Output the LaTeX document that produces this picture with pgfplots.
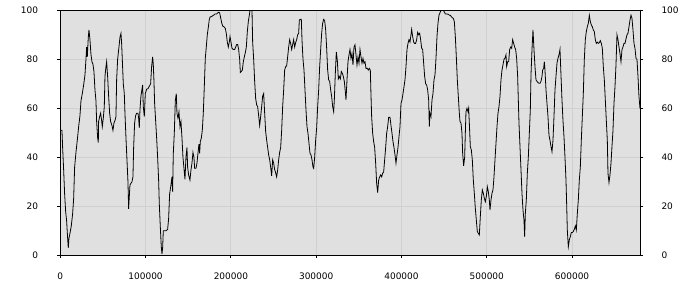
\documentclass[border=0pt]{standalone}
\usepackage{pgfplots}
\pgfplotsset{compat=1.18}
\usepackage{fontspec}
\setmainfont{DejaVu Sans}
\definecolor{plotbg}{HTML}{E0E0E0}
\definecolor{gridc}{HTML}{D0D0D0}
\begin{document}
\begin{tikzpicture}
\path[use as bounding box, fill=white] (-60.3bp,-44.7bp) rectangle (639.7bp,255.3bp);
\begin{axis}[
  at={(0,0)}, anchor=south west,
  scale only axis, width=580bp, height=245bp,
  xmin=0, xmax=680000, ymin=0, ymax=100,
  axis background/.style={fill=plotbg},
  grid=major, major grid style={gridc, line width=0.8bp},
  xtick={0,100000,200000,300000,400000,500000,600000},
  ytick={0,20,40,60,80,100},
  scaled x ticks=false,
  /pgf/number format/fixed, /pgf/number format/1000 sep={},
  /pgf/number format/assume math mode=true,
  tick align=outside, major tick length=3bp,
  xtick pos=left, ytick pos=left,
  axis line style={black, line width=0.8bp},
  tick style={black, line width=0.8bp},
  ticklabel style={font=\fontsize{9}{10}\selectfont, inner sep=0pt},
  yticklabel style={anchor=east},
  xticklabel style={anchor=north},
  yticklabel shift=19bp,
  xticklabel shift=14bp,
]
\addplot[black, line width=0.8bp] table {
x y
0 51
1954 51
2736 44
3908 35
5080 25
6253 18
7425 14
8598 7
9379 3
10161 7
11333 9
12896 12
14460 17
15632 23
16804 36
18368 42
19931 47
21494 52.5
23057 57
24230 63
25793 66
27356 69.5
28919 73.6
30092 80
30873 85
31655 81
32827 89
33609 92
34781 88
35954 82
37126 79
38298 78
39471 75
40643 67.5
41816 63
42597 54.6
43770 48
44551 46
44942 54.6
46114 56.6
47287 58
48459 55
49241 52.5
50413 56
51586 60.7
52367 73
53540 77
54321 79
55494 73
56666 65
57838 58
59011 54.6
60574 53
61746 51
62919 54
64091 55
65264 56.6
66045 71.6
67218 80
68781 85
69953 89
71126 90.6
71907 86.5
72689 80
73861 70
75034 66
75815 58
76988 48
78160 39
79332 30
80114 19
80896 24
81677 28.7
82850 29.4
84022 30
85194 32
85976 44
87148 54
88321 57
89493 58
91056 58
91838 56
92620 52
93401 59.3
94574 65
95746 67.8
96528 69.5
97309 60.7
98482 56.6
99654 66
101217 67.8
102780 68
104344 69
105907 70
107079 77
108252 81
109033 78
109815 71
110596 62
111769 55
112941 48
114114 40
115286 30.7
116068 21
117240 11.7
118412 3.5
119194 0.5
119976 3
120757 10
122320 10
123884 10
125838 10.6
127010 15
128182 25
129746 28.7
130918 32
131700 26
132481 41.6
133654 49.8
134826 63
135998 66
136780 58
137952 56
139125 58.6
140297 52.5
141470 54.6
142642 48
143814 40
144987 35.5
146159 31
147332 40
148504 44
149286 36
150458 32.8
152021 30.7
153194 34.8
154366 37.6
155538 42
156711 40
157492 35.5
159056 35.5
160228 37.6
161400 41.6
162573 45.4
163354 41.6
164136 46.4
165308 47.8
166481 51
167653 58
168826 68.8
169998 80.4
171170 85
172343 90
173515 93
174688 96.3
175860 97.4
177423 97.4
178596 97.8
179768 98
181331 98.5
183285 98.5
185239 99.2
186802 99
187975 97
189147 95
190320 93.6
191883 93.3
193446 92.6
194618 90.6
195791 87
196963 85
198136 87
198957 89.3
200129 87
201302 84.5
202865 84
204428 84
205601 85
206773 86
207945 86
209118 84
210290 80
211072 74.6
212244 75
213417 75.6
214589 79
215761 81
216934 82.7
218106 85
219279 91.3
220451 95.4
221623 98
222405 100
223577 100
224750 100
225531 87
226704 80
227876 71
229049 64
230221 61.4
231393 60.7
232566 57
233738 53
234911 56.6
236083 60.7
237255 65
238428 66
239600 58
240773 50.5
241945 47
243117 44
244290 41
245462 39
246635 36
247807 32.4
248979 39
250152 37.6
251324 35
252497 33.7
253669 32
254841 34.8
256014 39
257186 42
258359 44
259531 51
260703 60.7
261876 67.5
263048 75.6
264221 77
265393 77.3
266565 81
267738 85
268910 88
270083 86.5
271255 84
272427 86
273600 88
274772 85
275945 86.8
277117 88
278289 90
279462 90.6
280243 96
281416 96.3
282588 96.3
283370 88
284542 80
285715 75.6
286887 67.5
288059 59.3
289232 52.5
290404 49.8
291577 45.7
292749 41.6
293921 41
295094 39
296266 36
297048 35.5
298220 40
299392 47
300565 52
301737 60.7
302910 67.5
304082 77
305254 84
306427 90.6
307599 94.7
308772 96.3
309944 95.8
311116 92
312289 84.5
313461 75.6
314634 71.6
315806 71
316978 67.5
318151 64.8
319323 60.7
320496 58.6
321277 63.4
322450 74.3
323622 83
324795 79.5
325967 72
327139 73
328312 72
329484 75
330657 74.3
331829 73
333001 71
334174 66.8
334955 63.4
336128 71.6
337300 79
338473 81.8
339645 84
340817 80.4
341990 82.4
343162 77.7
344335 85
345507 85.9
346679 81.8
347852 77.7
349024 81
350197 78.4
351369 84
352541 81
353714 78.4
354886 80.4
356059 78.4
357231 79
358403 76.3
359967 76.3
361139 75.6
362311 76.3
363484 75.6
364265 65.4
365047 56.6
366219 49.8
367392 46.4
368564 44
369737 37.6
370909 29.4
372081 25.6
373254 30.7
374426 32
375599 32.8
376771 32
377943 33.5
379116 34
380288 39
381461 44
382633 49.8
383805 52.5
384978 56.3
386541 56.3
387713 53
388886 49.8
390058 46.4
391231 44
392403 41
393575 37.6
394748 41
395920 44
397093 48.4
398265 52.5
399437 62
400610 63.4
401782 66
402955 68.8
404127 71.6
405299 77
406472 84
407644 86.5
408817 88
409989 87
411161 90
411943 92.2
413115 89.3
414288 87
415460 86.5
416633 86.5
417805 88
418977 91
420150 90
421322 90.6
422495 88
423667 84.5
424839 84
426012 78.4
427184 73
428357 70
429529 69.5
430701 67.5
431874 63.4
432655 52.5
433437 58
434609 56.6
435782 63.4
436954 66
438127 71.6
439299 73.6
440471 80.4
441644 89.3
442816 94.7
443989 98
445161 99
446333 100
447506 100
449069 100
450241 99.3
451414 98.5
452977 98.5
454931 98.4
456103 98
457276 98
458448 97.4
459621 97
460793 96.7
461965 95.4
463138 89.3
464310 81
465483 71.6
466655 64.8
467827 58
468606 54.6
469778 54
470951 49.8
471732 41.6
472905 36.5
474077 40
474859 49.8
475640 58.6
476813 60
477985 58.6
478767 60
479548 54
480721 44.4
481893 43
483066 39
484238 30.7
485410 25.3
486583 19.2
487755 14.4
488928 9.7
490100 9
491272 8.3
492445 15.8
493617 22.6
494790 26.7
495962 25.3
497134 23.3
498307 21.9
499479 24
500652 28
501824 26
502996 22.6
503778 18.5
504950 22.6
506123 25.3
507295 26.7
508468 32
509640 39
510812 45.7
511985 52.5
513157 58
514330 60.7
515502 64.8
516674 71.6
517847 75.6
519019 77.7
520192 80
521364 80.4
522536 81.8
523318 77
524490 79
525663 79
526835 84
528008 85
529180 84.5
530352 88
531525 86.5
532697 85
533870 84
535042 80.4
536214 73
536996 63.4
537778 54
538950 44.4
540122 35
541295 25.3
542467 18.5
543640 14.4
544421 7.6
545203 17
546375 22.6
547548 33.5
548720 40
549892 49.8
551065 59.3
551846 73.6
553019 84
554191 92
555364 84
556536 77
557708 71.6
558881 71
560053 70.5
561226 70.2
562398 70.2
563570 71
564743 73
565524 75.6
566697 76.3
567478 79
568260 75.6
569432 67.5
570605 62
571777 56.6
572950 49
574122 47
575294 44.4
576467 42.3
577639 47
578812 56.6
579984 67.5
581156 73
582329 78.4
583501 80.4
584674 81.8
585846 84
587018 73.6
588191 63.4
589363 55
590536 48.4
591708 40
592880 30.7
593662 21
594444 10.3
595616 3.5
596788 6.3
597961 7.6
599133 9.3
600306 9.3
601478 9.7
602650 10.6
603823 12
604995 10.3
606168 17
607340 22.6
608512 30.7
609685 36
610857 47
612030 56.6
613202 66
614374 80
615547 88
616719 91.3
617892 93.3
619064 94.7
620236 98
621409 95.4
622581 94
623754 93.3
624926 92
626098 91.3
627271 88
628443 86.5
629616 87
630788 86.5
631960 86.8
633133 87.6
634305 86.5
635478 84.5
636650 77
637822 71.6
638995 63.4
640167 55
641340 47
642121 33.5
643294 29.7
644466 32.8
645638 37.6
646811 44.4
647983 51
649156 62
650328 68.8
651500 77.7
652673 90
653845 88
655018 85
656190 82.4
657362 79
658535 84
659707 85
660880 86.5
662052 86.5
663224 88.3
664397 90
665569 90.6
666742 93.3
667914 96
669086 98
670259 96.7
671431 92
672604 86.5
673776 84.5
674948 80.4
676121 80
677293 73
678466 64.8
679638 60
680000 60
};
\end{axis}
\begin{axis}[
  at={(0,0)}, anchor=south west,
  scale only axis, width=580bp, height=245bp,
  xmin=0, xmax=680000, ymin=0, ymax=100,
  hide x axis,
  axis y line*=right,
  ytick={0,20,40,60,80,100},
  /pgf/number format/assume math mode=true,
  tick align=outside, major tick length=3bp,
  axis line style={black, line width=0.8bp, -},
  tick style={black, line width=0.8bp},
  ticklabel style={font=\fontsize{9}{10}\selectfont, inner sep=0pt},
  yticklabel style={anchor=west},
  yticklabel shift=18bp,
]
\end{axis}
\end{tikzpicture}
\end{document}
